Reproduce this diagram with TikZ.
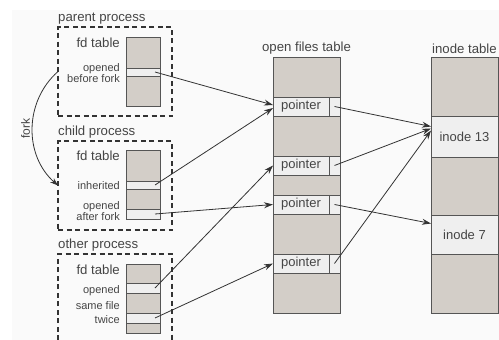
\documentclass[tikz,border=0pt]{standalone}
\usepackage{fontspec}
\setmainfont{Liberation Sans}
\usetikzlibrary{positioning,arrows.meta}
\definecolor{cellgray}{HTML}{D3CEC8}
\definecolor{slotwhite}{HTML}{EFEFEF}
\definecolor{edge}{HTML}{555555}
\definecolor{ink}{HTML}{454545}
\definecolor{paper}{HTML}{FAFAFA}

\begin{document}
\begin{tikzpicture}[x=1pt,y=-1pt,
    col/.style={draw=edge,fill=cellgray,line width=1pt,inner sep=0,outer sep=0,anchor=north west},
    slot/.style={draw=edge,fill=slotwhite,line width=1pt,inner sep=0,outer sep=0,anchor=north west,
      text=ink,font=\fontsize{13}{13}\selectfont},
    proc/.style={draw=black!80,dash pattern=on 5pt off 3.5pt,line width=1.1pt},
    lbl/.style={text=ink,inner sep=0,font=\fontsize{13.2}{14}\selectfont},
    note/.style={text=ink,inner sep=0,anchor=east,align=right,font=\fontsize{11}{11}\selectfont},
    ptr/.style={draw=black!80,line width=0.8pt,-{Stealth[length=9pt,width=6pt]}}]
  \useasboundingbox (0,0) rectangle (499,340);
  \fill[paper] (12,10) rectangle (499,340);

  % parent process
  \node[proc,inner sep=0,outer sep=0,anchor=north west,minimum width=114,minimum height=89] (parent) at (58,27) {};
  \node[lbl,anchor=south west] at ([yshift=3pt]parent.north west) {parent process};
  \node[col,minimum width=34,minimum height=69] (pfd) at (126,37) {};
  \node[slot,minimum width=34,minimum height=8] (popen) at (126,68) {};
  \node[lbl,anchor=east] at (120,43) {fd table};
  \node[note] at (120,73.5) {opened\\before fork};

  % child process
  \node[proc,inner sep=0,outer sep=0,anchor=north west,minimum width=114,minimum height=89] (child) at (58,141) {};
  \node[lbl,anchor=south west] at ([yshift=3pt]child.north west) {child process};
  \node[col,minimum width=34,minimum height=69] (cfd) at (126,150) {};
  \node[slot,minimum width=34,minimum height=8] (cinh) at (126,181) {};
  \node[slot,minimum width=34,minimum height=10] (caft) at (126,209) {};
  \node[lbl,anchor=east] at (120,156) {fd table};
  \node[note] at (120,186) {inherited};
  \node[note] at (120,211.5) {opened\\after fork};

  % other process
  \coordinate (other) at (58,254);
  \draw[proc] (58,340) |- (172,254) -- (172,340);
  \node[lbl,anchor=south west] at ([yshift=3pt]other) {other process};
  \node[col,minimum width=34,minimum height=69] (ofd) at (126,264) {};
  \node[slot,minimum width=34,minimum height=10] (oopen) at (126,283) {};
  \node[slot,minimum width=34,minimum height=10] (otwice) at (126,313) {};
  \node[lbl,anchor=east] at (120,270) {fd table};
  \node[note] at (120,291) {opened};
  \node[note] at (120,306) {same file};
  \node[note] at (120,320) {twice};

  % open files table
  \node[col,minimum width=67,minimum height=256] (oft) at (273,57) {};
  \node[lbl,above=3pt of oft] {open files table};
  \foreach \i/\y in {1/97,2/156,3/195,4/254} {
    \node[slot,minimum width=56,minimum height=19] (ptr\i) at (273,\y) {pointer};
    \node[slot,minimum width=11,minimum height=19] (ptr\i x) at (ptr\i.north east) {};
  }

  % inode table
  \node[col,minimum width=67,minimum height=256] (itab) at (431,57) {};
  \node[lbl,above=3pt of itab] {inode table};
  \node[slot,minimum width=67,minimum height=41] (in13) at (431,116) {inode 13};
  \node[slot,minimum width=67,minimum height=39] (in7) at (431,215) {inode 7};

  % fork
  \draw[ptr,-{Stealth[length=8pt,width=5.5pt]}] (parent.west) .. controls +(-34,30) and +(-34,-30) .. (child.west)
    node[midway,rotate=90,anchor=south,lbl,inner sep=2pt,font=\fontsize{12}{12}\selectfont] {fork};

  % descriptors to open files
  \draw[ptr] ([xshift=-5pt]popen.east) -- ([yshift=1.5pt]ptr1.west);
  \draw[ptr] ([xshift=-5pt]cinh.east) -- ([yshift=-1.5pt]ptr1.west);
  \draw[ptr] ([xshift=-5pt]caft.east) -- (ptr3.west);
  \draw[ptr] ([xshift=-5pt]oopen.east) -- (ptr2.west);
  \draw[ptr] ([xshift=-5pt]otwice.east) -- (ptr4.west);

  % open files to inodes
  \draw[ptr] (ptr1x.center) -- ([yshift=10pt]in13.west);
  \draw[ptr] (ptr2x.center) -- ([yshift=8pt]in13.west);
  \draw[ptr] (ptr4x.center) -- ([yshift=6pt]in13.west);
  \draw[ptr] (ptr3x.center) -- ([yshift=11pt]in7.west);
\end{tikzpicture}
\end{document}
